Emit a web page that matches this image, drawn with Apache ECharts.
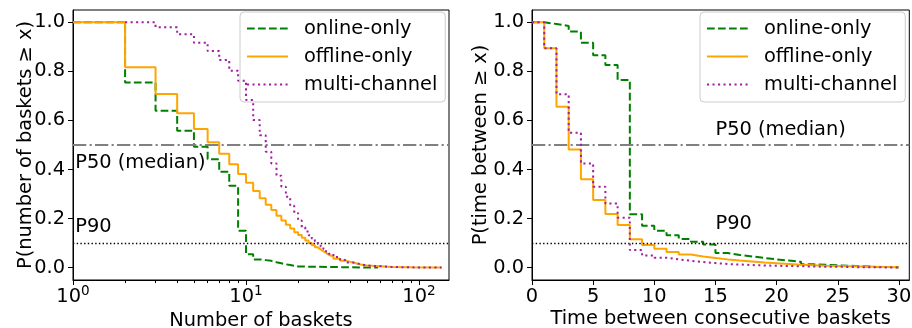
<!DOCTYPE html>
<html><head><meta charset="utf-8">
<script src="https://cdn.jsdelivr.net/npm/echarts@6/dist/echarts.min.js"></script>
<style>html,body{margin:0;padding:0;background:#fff}#c{width:912px;height:328px}</style>
</head><body><div id="c"></div>
<script>
const FONT = 'DejaVu Sans';
const FS = 19.4;
const seriesNames = ['online-only', 'offline-only', 'multi-channel'];
const colors = ['#008000', '#FFA500', '#a020a0'];
const yTicks = [0, 0.2, 0.4, 0.6, 0.8, 1.0];
const basketMajorTicks = [1, 10, 100];
const basketMinorTicks = [2,3,4,5,6,7,8,9,20,30,40,50,60,70,80,90];
const timeTicks = [0, 5, 10, 15, 20, 25, 30];

// Left: number of baskets (CCDF)
const basketOnlineX = [1,2,3,4,5,6,7,8,9,10,11,12,13,14,15,16,17,18,19,20,25,30,40,50,58];
const basketOnlineY = [1.0,0.755,0.64,0.558,0.493,0.442,0.391,0.334,0.151,0.055,0.034,0.031,0.028,0.022,0.018,0.014,0.011,0.008,0.005,0.004,0.003,0.002,0.001,0.0006,0.0003];
const basketOfflineX = [1,2,3,4,5,6,7,8,9,10,11,12,13,14,15,16,17,18,19,20,21,22,23,24,25,26,27,28,29,30,32,35,38,42,46,50,60,70,90,135];
const basketOfflineY = [1.0,0.817,0.708,0.629,0.565,0.511,0.464,0.422,0.382,0.346,0.313,0.283,0.257,0.235,0.212,0.192,0.175,0.16,0.145,0.133,0.122,0.111,0.101,0.092,0.083,0.075,0.067,0.06,0.053,0.046,0.037,0.028,0.02,0.013,0.009,0.006,0.003,0.0015,0.0007,0.0002];
const basketMultiX = [2,3,4,5,6,7,8,9,10,11,12,13,14,15,16,17,18,19,20,21,22,23,24,25,26,27,28,29,30,32,35,38,42,46,50,60,70,90,135];
const basketMultiY = [1.0,0.98,0.951,0.917,0.883,0.846,0.803,0.762,0.683,0.602,0.54,0.473,0.425,0.375,0.33,0.289,0.252,0.222,0.192,0.165,0.148,0.132,0.119,0.108,0.097,0.086,0.076,0.066,0.057,0.044,0.031,0.021,0.014,0.009,0.006,0.003,0.0015,0.0007,0.0002];

// Right: time between consecutive baskets (CCDF)
const timeX = [0,1,2,3,4,5,6,7,8,9,10,11,12,13,14,15,16,17,18,19,20,21,22,23,24,25,26,27,28,29,30];
const timeOnlineY = [1.0,0.993,0.985,0.962,0.917,0.866,0.826,0.765,0.218,0.171,0.151,0.132,0.117,0.106,0.095,0.06,0.052,0.046,0.04,0.034,0.029,0.024,0.014,0.012,0.01,0.008,0.006,0.004,0.003,0.002,0.0];
const timeOfflineY = [1.0,0.894,0.656,0.482,0.36,0.276,0.219,0.174,0.116,0.093,0.077,0.064,0.054,0.046,0.04,0.034,0.029,0.025,0.021,0.018,0.015,0.012,0.01,0.008,0.007,0.006,0.005,0.004,0.003,0.002,0.001];
const timeMultiY = [1.0,0.894,0.707,0.55,0.425,0.33,0.262,0.204,0.072,0.05,0.041,0.034,0.028,0.023,0.019,0.015,0.013,0.011,0.009,0.008,0.007,0.006,0.005,0.004,0.004,0.003,0.002,0.002,0.001,0.001,0.0];

const refValues = [0.5, 0.1];
const leftNotes = [[1.03, 0.427, 'P50 (median)'], [1.03, 0.165, 'P90']];
const rightNotes = [[15.0, 0.561, 'P50 (median)'], [15.0, 0.178, 'P90']];

const zip = (xs, ys) => xs.map((x, i) => [x, ys[i]]);
const dashes = [[7.7, 3.3], null, [2.1, 3.4]];
const txt = {color: '#000', fontFamily: FONT, fontSize: FS};

function yAxisCfg(grid, name, gap) {
  return {
    type: 'value', gridIndex: grid, min: -0.05, max: 1.05,
    name: name, nameLocation: 'middle', nameGap: gap, nameTextStyle: txt, nameMoveOverlap: false,
    axisLine: {show: true, lineStyle: {color: '#000', width: 1}},
    axisTick: {show: true, length: 5, customValues: yTicks, lineStyle: {color: '#000', width: 1}},
    axisLabel: Object.assign({customValues: yTicks, margin: 8, formatter: v => v.toFixed(1)}, txt),
    splitLine: {show: false}
  };
}

function lineSeries(idx, xi, yi, xs, ys) {
  const ls = {color: colors[idx], width: 2};
  if (dashes[idx]) ls.type = dashes[idx];
  return {
    name: seriesNames[idx], type: 'line', step: 'end', xAxisIndex: xi, yAxisIndex: yi,
    data: zip(xs, ys), symbol: 'none', showSymbol: false, lineStyle: ls,
    itemStyle: {color: colors[idx]}, silent: true, z: 3 + idx
  };
}

function refLines(xi, yi) {
  return {
    name: 'ref', type: 'line', xAxisIndex: xi, yAxisIndex: yi, data: [], silent: true, z: 10,
    markLine: {
      silent: true, symbol: ['none', 'none'], label: {show: false}, animation: false,
      data: [
        {yAxis: refValues[0], lineStyle: {color: '#808080', width: 2, type: [13.3, 3.3, 2.1, 3.3]}},
        {yAxis: refValues[1], lineStyle: {color: '#000', width: 1.4, type: [1.4, 2.3]}}
      ]
    }
  };
}

function notes(xi, yi, arr) {
  return {
    name: 'notes', type: 'scatter', xAxisIndex: xi, yAxisIndex: yi, data: arr,
    symbolSize: 0, silent: true, z: 12, itemStyle: {opacity: 1},
    label: Object.assign({show: true, position: [0, 0], verticalAlign: 'middle', align: 'left', formatter: p => p.data[2]}, txt)
  };
}

function legendCfg(left) {
  return {
    left: left, top: 12, orient: 'vertical', itemWidth: 41, itemHeight: 20, itemGap: 9,
    padding: [7, 8, 8, 6], backgroundColor: 'rgba(255,255,255,0.8)', borderColor: '#cccccc',
    borderWidth: 1, borderRadius: 4, data: seriesNames,
    itemStyle: {opacity: 0},
    textStyle: Object.assign({padding: [0, 0, 0, 11]}, txt)
  };
}

const gridBase = {top: 10, bottom: 48, show: true, borderColor: '#000', borderWidth: 1,
  backgroundColor: 'transparent', containLabel: false, outerBoundsMode: 'none'};

const chart = echarts.init(document.getElementById('c'), null, {renderer: 'canvas'});
chart.setOption({
  animation: false,
  backgroundColor: '#fff',
  textStyle: {fontFamily: FONT},
  grid: [
    Object.assign({left: 73, right: 463}, gridBase),
    Object.assign({left: 532, right: 2.7}, gridBase)
  ],
  legend: [legendCfg(240), legendCfg(700)],
  xAxis: [
    {
      type: 'log', logBase: 10, gridIndex: 0, min: 1, max: 149,
      name: 'Number of baskets', nameLocation: 'middle', nameGap: 31.5, nameTextStyle: txt, nameMoveOverlap: false,
      axisLine: {show: true, onZero: false, lineStyle: {color: '#000', width: 1}},
      axisTick: {show: true, length: 5, customValues: basketMajorTicks, lineStyle: {color: '#000'}},
      axisLabel: {
        customValues: basketMajorTicks, margin: 4,
        formatter: v => '{b|10}{s|' + Math.round(Math.log10(v)) + '}',
        rich: {
          b: {fontSize: FS, lineHeight: 25, color: '#000', fontFamily: FONT},
          s: {fontSize: 13.6, verticalAlign: 'top', color: '#000', fontFamily: FONT}
        }
      },
      splitLine: {show: false}, minorTick: {show: false}
    },
    {
      type: 'log', logBase: 10, gridIndex: 0, min: 1, max: 149, position: 'bottom',
      axisLine: {show: false, onZero: false},
      axisTick: {show: true, length: 3, customValues: basketMinorTicks, lineStyle: {color: '#000'}},
      axisLabel: {show: false}, splitLine: {show: false}
    },
    {
      type: 'value', gridIndex: 1, min: 0, max: 30.85,
      name: 'Time between consecutive baskets', nameLocation: 'middle', nameGap: 29, nameTextStyle: txt, nameMoveOverlap: false,
      axisLine: {show: true, onZero: false, lineStyle: {color: '#000', width: 1}},
      axisTick: {show: true, length: 5, customValues: timeTicks, lineStyle: {color: '#000'}},
      axisLabel: Object.assign({customValues: timeTicks, margin: 7}, txt),
      splitLine: {show: false}
    }
  ],
  yAxis: [
    yAxisCfg(0, 'P(number of baskets \u2265 x)', 38),
    yAxisCfg(1, 'P(time between \u2265 x)', 42)
  ],
  series: [
    lineSeries(0, 0, 0, basketOnlineX, basketOnlineY),
    lineSeries(1, 0, 0, basketOfflineX, basketOfflineY),
    lineSeries(2, 0, 0, basketMultiX, basketMultiY),
    refLines(0, 0),
    notes(0, 0, leftNotes),
    lineSeries(0, 2, 1, timeX, timeOnlineY),
    lineSeries(1, 2, 1, timeX, timeOfflineY),
    lineSeries(2, 2, 1, timeX, timeMultiY),
    refLines(2, 1),
    notes(2, 1, rightNotes)
  ]
});
</script>
</body></html>
